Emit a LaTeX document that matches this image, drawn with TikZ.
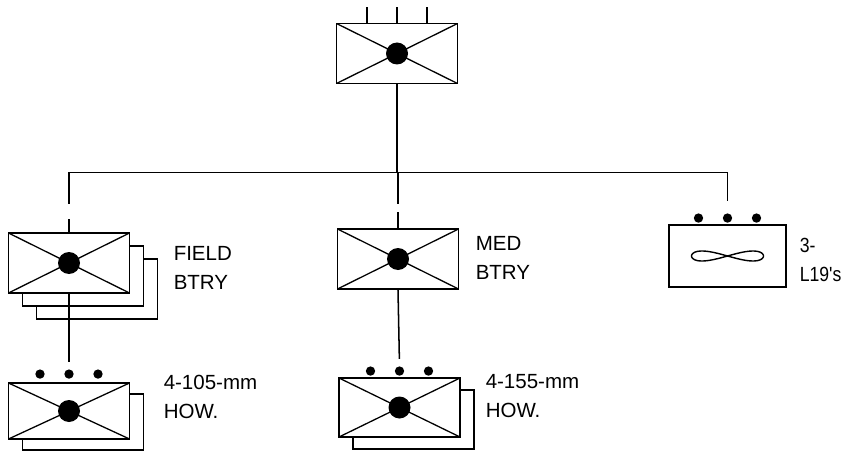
\documentclass[tikz,border=0pt]{standalone}
\usepackage{fontspec}
\setmainfont{Liberation Sans}
\newfontfamily\narrowsans[FakeStretch=0.86]{Liberation Sans}
\usetikzlibrary{shadows}

\begin{document}
\begin{tikzpicture}[x=0.03cm, y=-0.03cm, line width=1.3pt,
    unitbox/.style={draw, fill=white, rectangle, line width=1.6pt, inner sep=0pt,
        minimum width=3.63cm, minimum height=1.8cm,
        path picture={
            \draw[line width=1.1pt] (path picture bounding box.north west) -- (path picture bounding box.south east)
                (path picture bounding box.south west) -- (path picture bounding box.north east);
            \fill[black] (path picture bounding box.center) circle (0.33cm);}},
    planebox/.style={draw, fill=white, rectangle, line width=1.6pt, inner sep=0pt,
        minimum width=3.5cm, minimum height=1.86cm},
    gundot/.style={circle, fill, inner sep=0pt, minimum size=0.28cm},
    tag/.style={anchor=west, align=left, inner sep=0pt, font=\fontsize{17.5}{25}\selectfont}]
    \useasboundingbox (0,0) rectangle (843,452);

    %headquarters and its antennas
        \node[unitbox] (hq) at (397,53.5) {};
        \foreach \dx in {-30,0,30}
            \draw ([xshift=\dx*0.03cm]hq.north) -- ++(0,-16);

    %batteries
        \node[unitbox, double copy shadow={shadow xshift=0.42cm, shadow yshift=-0.39cm}] (field) at (69,263) {};
        \node[unitbox] (med) at (398,259) {};
        \node[planebox] (air) at (727.5,256) {};
        \draw[line width=1.2pt, shift={(air.center)}]
            plot[domain=0:360, samples=72, smooth] ({36*cos(\x)}, {10*sin(\x)*cos(\x)});

    %howitzer platoons
        \node[unitbox, minimum height=1.68cm, copy shadow={shadow xshift=0.42cm, shadow yshift=-0.33cm}] (fhow) at (69,411) {};
        \node[unitbox, minimum height=1.77cm, copy shadow={shadow xshift=0.42cm, shadow yshift=-0.36cm}] (mhow) at (399.5,407.5) {};

    %weapon dots on top
        \foreach \dx [count=\i] in {-29,0,29} {
            \node[gundot] (fhow-\i) at ([xshift=\dx*0.03cm, yshift=0.24cm]fhow.north) {};
            \node[gundot] (mhow-\i) at ([xshift=\dx*0.03cm, yshift=0.18cm]mhow.north) {};
            \node[gundot] (air-\i) at ([xshift=\dx*0.03cm, yshift=0.18cm]air.north) {};
        }

    %labels
        \node[tag] (fieldtag) at (173,268) {FIELD\\BTRY};
        \node[tag] (medtag) at (475,258) {MED\\BTRY};
        \node[tag, font=\fontsize{17.5}{25}\narrowsans] (airtag) at (799,260) {3-\\L19's};
        \node[tag] (fhowtag) at (163,397) {4-105-mm\\HOW.};
        \node[tag] (mhowtag) at (485,396) {4-155-mm\\HOW.};

    %connecting lines
        \path (hq.south) ++(0,88) coordinate (bar);
        \draw (hq.south) -- (bar);
        \draw (field.north |- bar) -- (air.north |- bar);
        \draw (field.north |- bar) -- ++(0,32);
        \draw ([yshift=0.39cm]field.north) -- (field.north);
        \draw (med.north |- bar) -- ++(0,32);
        \draw ([yshift=0.48cm]med.north) -- (med.north);
        \draw[shorten >=0.35cm] (air.north |- bar) -- (air-2.north);
        \draw[shorten >=0.21cm] (field.south) -- (fhow-2.north);
        \draw[shorten >=0.2cm] (med.south) -- (mhow-2.north);

\end{tikzpicture}
\end{document}
